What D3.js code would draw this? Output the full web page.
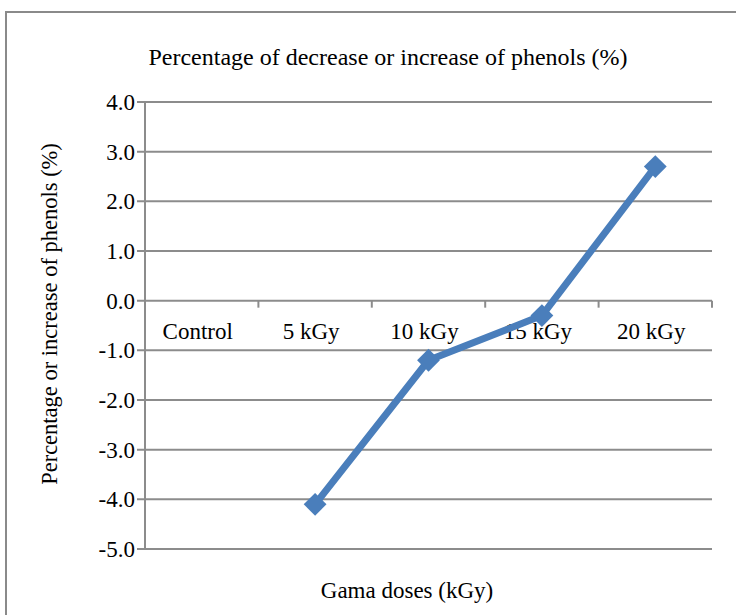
<!DOCTYPE html>
<html><head><meta charset="utf-8">
<script src="https://cdn.jsdelivr.net/npm/d3@7"></script>
<style>body{margin:0;background:#fff}svg{display:block}text{font-family:"Liberation Serif","Times New Roman",serif;fill:#000}</style>
</head><body>
<script>
const categories = ["Control","5 kGy","10 kGy","15 kGy","20 kGy"];
const values = [null, -4.1, -1.2, -0.3, 2.7];
const yTicks = [4,3,2,1,0,-1,-2,-3,-4,-5];
const title = "Percentage of decrease or increase of phenols (%)";
const xTitle = "Gama doses (kGy)";
const yTitle = "Percentage or increase of phenols (%)";

const W = 736, H = 615;
const svg = d3.select("body").append("svg").attr("width", W).attr("height", H);
svg.append("rect").attr("x",6).attr("y",12).attr("width",W+10).attr("height",H+10)
  .attr("fill","#fff").attr("stroke","#8a8a8a").attr("stroke-width",2);

const L = 145, R = 712, T = 102, B = 549;
const x = d3.scaleBand().domain(categories).range([L, R]);
const y = d3.scaleLinear().domain([-5, 4]).range([B, T]);
const grid = "#8c8c8c";

svg.append("g").selectAll("line").data(yTicks).join("line")
  .attr("x1", L - 8).attr("x2", R).attr("y1", d => y(d)).attr("y2", d => y(d))
  .attr("stroke", grid).attr("stroke-width", 2);
svg.append("line").attr("x1", L).attr("x2", L).attr("y1", T).attr("y2", B)
  .attr("stroke", grid).attr("stroke-width", 2);
svg.append("g").selectAll("text").data(yTicks).join("text")
  .attr("x", L - 10).attr("y", d => y(d)).attr("dy", "0.35em").attr("text-anchor","end")
  .style("font-size","23px").text(d => d3.format(".1f")(d).replace("−","-"));
const bounds = categories.map(c => x(c)).concat([R]);
svg.append("g").selectAll("line").data(bounds.slice(1)).join("line")
  .attr("x1", d => d).attr("x2", d => d).attr("y1", y(0)).attr("y2", y(0) + 7)
  .attr("stroke", grid).attr("stroke-width", 2);
svg.append("g").selectAll("text").data(categories).join("text")
  .attr("x", d => x(d) + x.bandwidth()/2 - 4).attr("y", y(0) + 38).attr("text-anchor","middle")
  .style("font-size","23px").text(d => d);

const pts = categories.map((c,i) => ({c, v: values[i]})).filter(d => d.v !== null);
const line = d3.line().x(d => x(d.c) + x.bandwidth()/2).y(d => y(d.v));
svg.append("path").datum(pts).attr("d", line).attr("fill","none")
  .attr("stroke","#4a7ebb").attr("stroke-width",7).attr("stroke-linejoin","round");
svg.append("g").selectAll("path").data(pts).join("path")
  .attr("d", d3.symbol().type(d3.symbolSquare).size(260))
  .attr("transform", d => `translate(${x(d.c) + x.bandwidth()/2},${y(d.v)}) rotate(45)`)
  .attr("fill","#4a7ebb");

svg.append("text").attr("x", 388).attr("y", 65).attr("text-anchor","middle")
  .style("font-size","24px").text(title);
svg.append("text").attr("x", 407).attr("y", 598).attr("text-anchor","middle")
  .style("font-size","23px").text(xTitle);
svg.append("text").attr("transform","translate(57,314) rotate(-90)").attr("text-anchor","middle")
  .style("font-size","22.5px").text(yTitle);
</script>
</body></html>
